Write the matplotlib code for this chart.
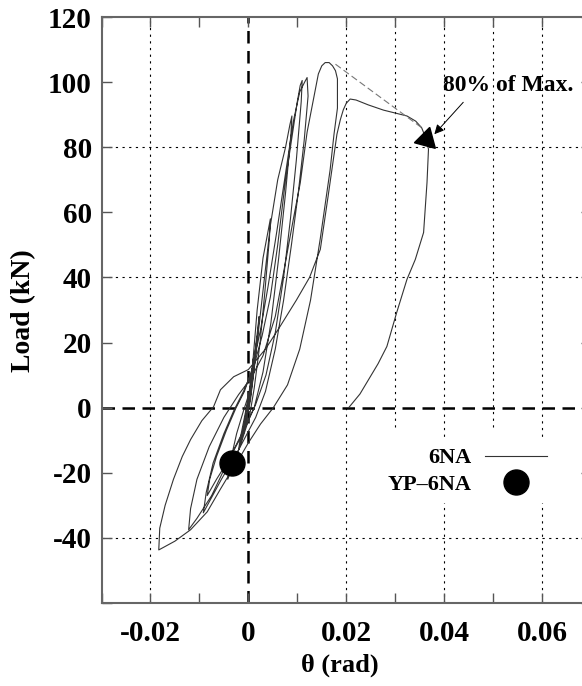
import numpy as np
import matplotlib
matplotlib.use("Agg")
from matplotlib import pyplot as plt

# hysteresis curve of specimen 6NA (theta in rad, load in kN)
theta_6na = [0, 0.0005, 0.0010, 0.0006, 0, -0.0005, -0.0010, -0.0005, 0,
             0.0006, 0.0013, 0.0018, 0.0012, 0.0004, -0.0004, -0.0011, -0.0016, -0.0010, -0.0003,
             0.0008, 0.0016, 0.0022, 0.0020, 0.0012, 0.0004, -0.0006, -0.0014, -0.0020,
             -0.0016, -0.0008, 0, 0.0008, 0.0018, 0.0030, 0.0045, 0.0043, 0.0034, 0.0024,
             0.0012, 0.0002, -0.0015, -0.0030, -0.0042, -0.0036, -0.0024, -0.0010, 0.0005,
             0.0018, 0.0030, 0.0045, 0.0060, 0.0076, 0.0085, 0.0089, 0.0087, 0.0076, 0.0062,
             0.0046, 0.0030, 0.0012, -0.0015, -0.0040, -0.0065, -0.0084, -0.0079, -0.0065,
             -0.0045, -0.0025, -0.0008,
             0.0008, 0.0025, 0.0040, 0.0058, 0.0076, 0.0092, 0.0105, 0.0115, 0.0120, 0.0122,
             0.0114, 0.0102, 0.0088, 0.0072, 0.0055, 0.0035, 0.0015, -0.0020, -0.0055,
             -0.0080, -0.0092, -0.0086, -0.0072, -0.0050, -0.0030, -0.0010,
             0.0010, 0.0028, 0.0045, 0.0060, 0.0076, 0.0090, 0.0100, 0.0106, 0.0110, 0.0108,
             0.0098, 0.0086, 0.0072, 0.0055, 0.0036, 0.0015, -0.0010, -0.0040, -0.0075,
             -0.0105, -0.0122, -0.0118, -0.0105, -0.0080, -0.0050, -0.0020, 0.0005,
             0.0030, 0.0055, 0.0075, 0.0092, 0.0106, 0.0120, 0.0133, 0.0143, 0.0150, 0.0157,
             0.0165, 0.0172, 0.0178, 0.0182, 0.0182, 0.0175, 0.0167, 0.0147, 0.0127, 0.0105,
             0.0080, 0.0051, 0.0025,
             0, -0.0020, -0.0045, -0.0057, -0.0084, -0.0118, -0.0150, -0.0183,
             -0.0181, -0.0170, -0.0153, -0.0135, -0.0118, -0.0095, -0.0071, -0.0057, -0.0030,
             0, 0.0035, 0.0065, 0.0098, 0.0125, 0.0147, 0.0163, 0.0181, 0.0188, 0.0194, 0.0200,
             0.0208, 0.0220, 0.0245, 0.0276, 0.0300, 0.0324, 0.0342, 0.0354, 0.0362, 0.0368,
             0.0365, 0.0358, 0.0341, 0.0324, 0.0303, 0.0283, 0.0265, 0.0249, 0.0228, 0.0205]
load_6na = [0, 8, 15, 8, 0, -5, -8, -4, 0,
            8, 16, 22, 12, 3, -3, -8, -11, -6, 0,
            10, 20, 28, 24, 12, 2, -5, -10, -13,
            -9, -3, 3, 12, 30, 46, 58, 52, 36, 20,
            6, -3, -11, -17, -22, -16, -8, -1, 6,
            20, 36, 56, 70, 80, 87, 89.6, 84, 66, 46,
            26, 11, 0, -9, -16, -22, -27, -22, -15,
            -7, 0, 5,
            12, 24, 37, 54, 72, 88, 97, 100, 101.4, 95.7,
            82, 66, 50, 33, 18, 5, -3, -13, -22,
            -29, -32.3, -26, -17, -8, -1, 5,
            12, 22, 34, 50, 70, 84, 94, 99, 100.5, 94,
            76, 58, 40, 23, 10, 1, -7, -16, -27,
            -34, -37.5, -31, -22, -12, -3, 4, 9,
            16, 28, 44, 58, 69, 84.6, 94.8, 102.5, 105, 106,
            106, 105, 103.5, 101, 92, 84, 73, 52, 33, 18,
            7, 0, -5,
            -10.8, -16, -22, -25, -32, -37.5, -41, -43.7,
            -37, -30, -22, -15, -9.8, -4, 0.3, 5.5, 9.5,
            11.7, 18, 25, 33, 40, 48.6, 65, 84, 88.5, 91.5, 93.5,
            94.8, 94.5, 93, 91.4, 90.5, 89.6, 88, 86, 83, 79.4,
            69.2, 53.8, 45.5, 39.4, 29.2, 18.8, 13.5, 9.5, 4.2, 0]

# envelope from peak to the 80 % point
env_theta = [0.0178, 0.0354]
env_load = [105.5, 86]

# 80 % of max point and yield point
p80_theta = [0.0362]
p80_load = [82.5]
yp_theta = [-0.0033]
yp_load = [-17]

xticks = [-0.03, -0.02, -0.01, 0, 0.01, 0.02, 0.03, 0.04, 0.05, 0.06, 0.07]
xticklabels = ['', '-0.02', '', '0', '', '0.02', '', '0.04', '', '0.06', '']
yticks = [-60, -40, -20, 0, 20, 40, 60, 80, 100, 120]
yticklabels = ['', '-40', '-20', '0', '20', '40', '60', '80', '100', '120']

plt.rcParams['font.family'] = ['Liberation Serif', 'DejaVu Serif']
plt.rcParams['font.weight'] = 'bold'

fig = plt.figure(figsize=(5.82, 6.86), dpi=100)
ax = fig.add_axes([101.5 / 582, 83 / 686, 489.5 / 582, 586 / 686])
ax.set_xlim(-0.03, 0.07)
ax.set_ylim(-60, 120)

# grid
for gx in [-0.02, 0.02, 0.04, 0.06]:
    ax.axvline(gx, color='black', lw=0.8, ls=(0, (2, 4)), zorder=1)
for gx in [0.03, 0.05]:
    ax.plot([gx, gx], [-6, 120], color='black', lw=0.8, ls=(0, (2, 4)), zorder=1)
for gy in [-40, 40, 80]:
    ax.axhline(gy, color='black', lw=0.8, ls=(0, (2, 4)), zorder=1)
ax.axvline(0, color='black', lw=1.8, ls=(0, (5, 3)), zorder=1)
ax.axhline(0, color='black', lw=1.8, ls=(0, (5, 3)), zorder=1)

ax.plot(theta_6na, load_6na, color='#333333', lw=0.8, label='6NA', zorder=3)
ax.plot(env_theta, env_load, color='#777777', lw=0.8, ls=(0, (6, 3)), zorder=3)
ax.plot(p80_theta, p80_load, ls='none', marker=(3, 0, -15), ms=18, color='black', zorder=4)
ax.plot(yp_theta, yp_load, ls='none', marker='o', ms=18, color='black', label='YP\u20136NA', zorder=4)

ax.text(0.0398, 98.9, '80% of Max.', fontsize=17, fontweight='bold', ha='left', va='center')
ax.annotate('', xy=(0.0380, 84), xytext=(0.0439, 93.8),
            arrowprops=dict(arrowstyle='-|>', color='black', lw=0.7, mutation_scale=14,
                            shrinkA=0, shrinkB=0))

leg = ax.legend(loc='upper right', bbox_to_anchor=(556 / 582, 1 - 439 / 686),
                bbox_transform=fig.transFigure, markerfirst=False, fontsize=16,
                handlelength=2.8, handletextpad=0.6, labelspacing=0.25,
                borderpad=0.4, borderaxespad=0, frameon=True, fancybox=False)
leg.get_frame().set_edgecolor('none')
leg.get_frame().set_facecolor('white')
leg.get_frame().set_alpha(1)
leg.set_zorder(2)

ax.set_xticks(xticks)
ax.set_xticklabels(xticklabels)
ax.set_yticks(yticks)
ax.set_yticklabels(yticklabels)
ax.tick_params(direction='in', length=7, width=1, color='#555555', labelsize=21,
               top=True, right=True)
ax.tick_params(axis='x', pad=12)
ax.tick_params(axis='y', pad=7)
for s in ax.spines.values():
    s.set_color('#666666')
    s.set_linewidth(1.5)

fig.text(340 / 582, 1 - 665 / 686, '\u03b8 (rad)', fontsize=19, fontweight='bold',
         ha='center', va='center')
fig.text(24 / 582, 1 - 311 / 686, 'Load (kN)', fontsize=20, fontweight='bold',
         ha='center', va='center', rotation=90)

fig.savefig('out.png', dpi=100)
